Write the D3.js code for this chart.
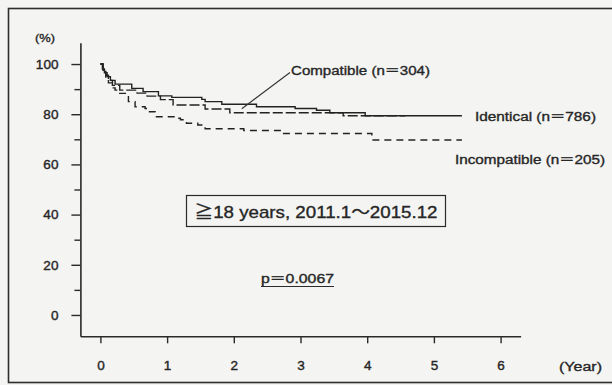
<!DOCTYPE html>
<html>
<head>
<meta charset="utf-8">
<script src="https://cdn.jsdelivr.net/npm/d3@7/dist/d3.min.js"></script>
<style>
  html, body { margin: 0; padding: 0; background: #f4f4f2; }
  svg { display: block; }
  .lbl { font-family: "Liberation Sans", "Noto Sans CJK JP", sans-serif; fill: #262626; stroke: #262626; stroke-width: 0.35px; }
  .tick text { font-family: "Liberation Sans", Arial, sans-serif; font-size: 13.5px; fill: #262626; stroke: #262626; stroke-width: 0.4px; }
</style>
</head>
<body>
<svg id="chart" width="612" height="385"></svg>
<script>
// Kaplan-Meier survival estimates (years since transplant, % surviving)
const identicalTime  = [0, 0.03, 0.06, 0.10, 0.15, 0.22, 0.47, 0.64, 0.87, 1.07, 1.52, 1.57, 1.82, 2.34, 2.92, 3.24, 3.44, 3.97, 5.42];
const identicalValue = [100, 98, 96.5, 95, 93.5, 92, 90.3, 89, 87.3, 86.7, 85.9, 85.0, 84.0, 83.0, 82.3, 81.6, 80.6, 79.4, 79.4];

const compatibleTime  = [0, 0.04, 0.08, 0.12, 0.18, 0.29, 0.55, 0.70, 0.90, 1.09, 1.57, 1.94, 3.64, 4.57];
const compatibleValue = [100, 97.5, 95.5, 93.5, 91.5, 89.6, 88.4, 87.2, 85.8, 83.7, 82.1, 80.6, 79.4, 79.4];

const incompatibleTime  = [0, 0.04, 0.08, 0.12, 0.18, 0.22, 0.29, 0.42, 0.52, 0.67, 0.72, 0.82, 0.84, 1.12, 1.20, 1.29, 1.46, 1.57, 2.15, 2.72, 4.07, 5.42];
const incompatibleValue = [100, 97, 94.5, 92.5, 90.5, 89.6, 88.3, 85.0, 83.0, 82.3, 81.0, 80.4, 79.0, 78.4, 77.8, 76.4, 75.7, 74.2, 73.5, 72.3, 69.7, 69.7];

const seriesNames = ["Identical (n\uFF1D786)", "Compatible (n\uFF1D304)", "Incompatible (n\uFF1D205)"];
const xTickValues = [0, 1, 2, 3, 4, 5, 6];
const yTickValues = [0, 20, 40, 60, 80, 100];
const yMinorTicks = [10, 30, 50, 70, 90];
const subtitle = "\u226718 years, 2011.1\uFF5E2015.12";
const pValue = "p\uFF1D0.0067";

const svg = d3.select("#chart");

// outer frame
svg.append("rect")
  .attr("x", 8.5).attr("y", 8.5).attr("width", 612).attr("height", 374)
  .attr("fill", "#f4f4f2").attr("stroke", "#2e2e2e").attr("stroke-width", 1.6);

const x = d3.scaleLinear().domain([-0.3, 6.3]).range([80.4, 520.6]);
const y = d3.scaleLinear().domain([-8.5, 108.5]).range([336.3, 42.7]);

// y axis
svg.append("g").attr("transform", "translate(80.4,0)")
  .call(d3.axisLeft(y).tickValues(yTickValues).tickSize(9).tickSizeOuter(0).tickPadding(13).tickFormat(d3.format("d")));
svg.append("g").attr("transform", "translate(80.4,0)")
  .call(d3.axisLeft(y).tickValues(yMinorTicks).tickSize(6).tickSizeOuter(0).tickFormat(""))
  .select(".domain").remove();

// x axis
svg.append("g").attr("transform", "translate(0,336.3)")
  .call(d3.axisBottom(x).tickValues(xTickValues).tickSize(7).tickSizeOuter(0).tickPadding(17).tickFormat(d3.format("d")));

svg.selectAll(".domain").attr("stroke", "#2a2a2a").attr("stroke-width", 1.6);
svg.selectAll(".tick line").attr("stroke", "#2a2a2a").attr("stroke-width", 1.4);

// survival curves
const line = d3.line().curve(d3.curveStepAfter).x(d => x(d[0])).y(d => y(d[1]));
const curves = [
  { t: identicalTime,    v: identicalValue,    dash: null },
  { t: compatibleTime,   v: compatibleValue,   dash: "10,3" },
  { t: incompatibleTime, v: incompatibleValue, dash: "7,5" }
];
curves.forEach(c => {
  svg.append("path")
    .datum(c.t.map((t, i) => [t, c.v[i]]))
    .attr("d", line)
    .attr("fill", "none")
    .attr("stroke", "#222")
    .attr("stroke-width", 1.4)
    .attr("stroke-dasharray", c.dash);
});

// series labels
function label(text, x0, yb, size, len) {
  return svg.append("text").attr("class", "lbl")
    .attr("x", x0).attr("y", yb)
    .attr("font-size", size)
    .attr("textLength", len).attr("lengthAdjust", "spacingAndGlyphs")
    .text(text);
}
label(seriesNames[1], 291, 74.5, 12.5, 139);
label(seriesNames[0], 475, 121, 12.5, 121);
label(seriesNames[2], 455, 164, 12.5, 150);

// leader from the Compatible label to its curve
svg.append("line")
  .attr("x1", 290).attr("y1", 72.5)
  .attr("x2", x(2.12)).attr("y2", y(compatibleValue[11]) - 4)
  .attr("stroke", "#333").attr("stroke-width", 1.1);

// cohort box
svg.append("rect")
  .attr("x", 186.5).attr("y", 195.5).attr("width", 259).attr("height", 31)
  .attr("fill", "none").attr("stroke", "#2a2a2a").attr("stroke-width", 1.2);
label(subtitle, 194.5, 217.5, 17, 243);

// log-rank p value
label(pValue, 261, 282.5, 12.5, 73);
svg.append("line")
  .attr("x1", 261).attr("x2", 334).attr("y1", 286.5).attr("y2", 286.5)
  .attr("stroke", "#2a2a2a").attr("stroke-width", 1.2);

// axis units
label("(%)", 35, 42, 11.5, 20);
label("(Year)", 559, 370.5, 12.5, 43);
</script>
</body>
</html>
